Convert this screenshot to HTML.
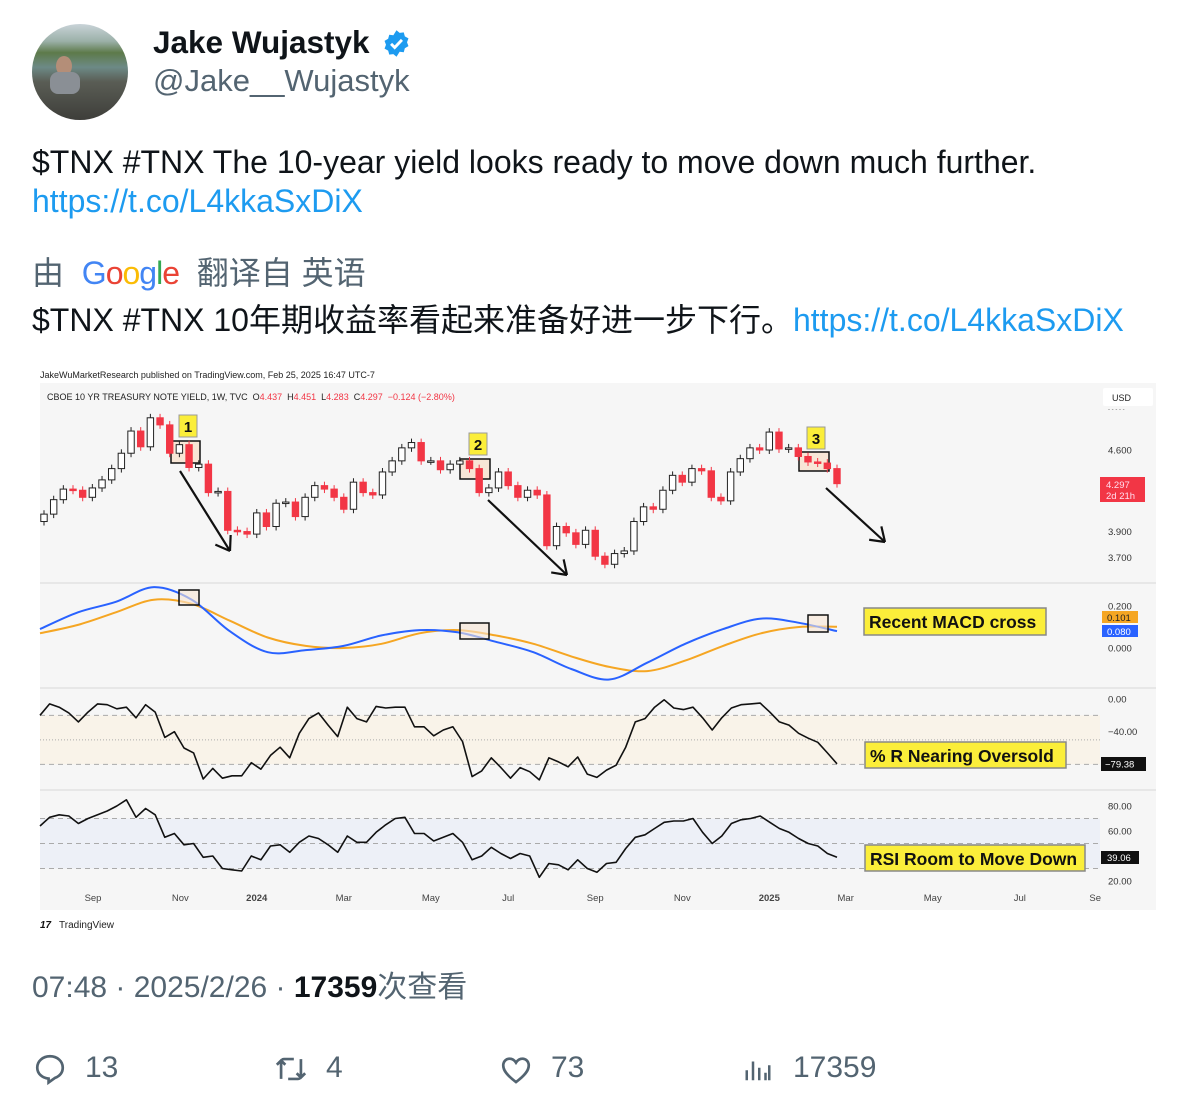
<!DOCTYPE html>
<html><head><meta charset="utf-8">
<style>
body{margin:0;width:1196px;height:1116px;background:#fff;position:relative;overflow:hidden;font-family:"Liberation Sans","Noto Sans CJK SC",sans-serif;color:#0f1419}
.a{position:absolute;white-space:nowrap}
.g{color:#536471}
.l{color:#1d9bf0}
</style></head><body>
<div class="a" style="left:32px;top:24px;width:96px;height:96px;border-radius:50%;overflow:hidden;background:linear-gradient(#c9d3d8 0,#9bb0a8 18%,#5d7a4a 30%,#6d8a86 45%,#5a5d55 60%,#3e3e3a 100%)">
 <div style="position:absolute;left:24px;top:32px;width:16px;height:20px;border-radius:50%;background:#b48e78"></div>
 <div style="position:absolute;left:18px;top:48px;width:30px;height:22px;border-radius:8px;background:#8a8f95"></div>
</div>
<div class="a" style="left:153px;top:24px;font-size:31.5px;font-weight:bold;">Jake Wujastyk</div>
<svg class="a" style="left:382px;top:29px" width="29" height="29" viewBox="0 0 24 24"><path fill="#1d9bf0" d="M12 1l2.6 2.2 3.4-.4.9 3.3 3 1.7-1.2 3.2 1.2 3.2-3 1.7-.9 3.3-3.4-.4L12 23l-2.6-2.2-3.4.4-.9-3.3-3-1.7L3.3 13 2.1 9.8l3-1.7.9-3.3 3.4.4z"/><path d="M7.5 12.3l3 3 6-6.3" stroke="#fff" stroke-width="2.4" fill="none"/></svg>
<div class="a g" style="left:153px;top:63px;font-size:31px;">@Jake__Wujastyk</div>
<div class="a" style="left:32px;top:144px;font-size:32px;">$TNX #TNX The 10-year yield looks ready to move down much further.</div>
<div class="a l" style="left:32px;top:183px;font-size:32px;">https://t.co/L4kkaSxDiX</div>
<div class="a g" style="left:32px;top:248px;font-size:32px;">由&nbsp; <span style="letter-spacing:-1px"><span style="color:#4285f4">G</span><span style="color:#ea4335">o</span><span style="color:#fbbc05">o</span><span style="color:#4285f4">g</span><span style="color:#34a853">l</span><span style="color:#ea4335">e</span></span>&nbsp; 翻译自 英语</div>
<div class="a" style="left:32px;top:295px;font-size:32px;">$TNX #TNX 10年期收益率看起来准备好进一步下行。<span class="l">https://t.co/L4kkaSxDiX</span></div>

<svg id="chart" class="a" style="left:0;top:360px" width="1196" height="580" viewBox="0 360 1196 580" font-family="Liberation Sans, sans-serif"></svg>

<div class="a g" style="left:32px;top:962px;font-size:30px;">07:48 · 2025/2/26 · <b style="color:#0f1419">17359</b>次查看</div>

<svg class="a" style="left:33px;top:1052px" width="34" height="34" viewBox="0 0 24 24"><path d="M12 3c5 0 9 3.4 9 8 0 3.5-2.3 6-5.5 7.3L11 21.5V18.8C6.5 18.3 3 15.3 3 11c0-4.6 4-8 9-8z" fill="none" stroke="#536471" stroke-width="1.9"/></svg>
<div class="a g" style="left:85px;top:1051px;font-size:30px">13</div>
<svg class="a" style="left:273px;top:1052px" width="36" height="34" viewBox="0 0 24 24" fill="none" stroke="#536471" stroke-width="1.9"><path d="M5 19V7a2 2 0 012-2h7M2 9l3-3 3 3M19 5v12a2 2 0 01-2 2h-7M16 15l3 3 3-3"/></svg>
<div class="a g" style="left:326px;top:1051px;font-size:30px">4</div>
<svg class="a" style="left:499px;top:1053px" width="34" height="34" viewBox="0 0 24 24"><path d="M12 20.5C6 16 3 12.5 3 8.8 3 6 5 4 7.5 4c2 0 3.5 1.2 4.5 2.8C13 5.2 14.5 4 16.5 4 19 4 21 6 21 8.8c0 3.7-3 7.2-9 11.7z" fill="none" stroke="#536471" stroke-width="1.9"/></svg>
<div class="a g" style="left:551px;top:1051px;font-size:30px">73</div>
<svg class="a" style="left:743px;top:1052px" width="30" height="34" viewBox="0 0 24 24" stroke="#536471" stroke-width="2"><path d="M3 21V13M8 21V6M13 21V11M18 21V15M21 21V9"/></svg>
<div class="a g" style="left:793px;top:1051px;font-size:30px">17359</div>

<script>
// ---- data ----
const closes=[4.04,4.16,4.25,4.24,4.18,4.26,4.33,4.43,4.57,4.78,4.63,4.91,4.84,4.57,4.65,4.44,4.47,4.22,4.23,3.91,3.90,3.88,
4.05,3.94,4.13,4.14,4.02,4.18,4.28,4.25,4.18,4.08,4.31,4.22,4.20,4.40,4.50,4.62,4.67,4.50,4.50,4.42,4.47,4.50,4.43,4.22,4.26,4.40,4.28,4.18,4.24,4.20,3.79,3.94,3.89,3.80,3.91,3.71,3.65,3.73,3.75,3.98,4.10,4.08,4.24,4.37,4.31,4.43,4.41,4.18,4.15,4.40,4.52,4.62,
4.60,4.77,4.61,4.62,4.54,4.49,4.48,4.43,4.297];
const firstOpen=3.98;
const macdLine=[0.09,0.17,0.22,0.29,0.23,0.08,-0.02,-0.01,0.01,0.06,0.085,0.075,0.03,-0.02,-0.10,-0.15,-0.07,0.02,0.09,0.14,0.12,0.08];
const signalLine=[0.07,0.11,0.17,0.23,0.21,0.13,0.05,0.01,0.00,0.02,0.07,0.085,0.06,0.02,-0.04,-0.09,-0.11,-0.06,0.01,0.07,0.10,0.101];
const williamsR=[-20,-6,-10,-17,-28,-16,-6,-7,-12,-10,-23,-7,-16,-47,-40,-60,-66,-98,-85,-97,-94,-94,-78,-86,-69,-59,-72,-42,-24,-17,-32,-46,-10,-24,-28,-9,-11,-10,-10,-34,-34,-45,-38,-34,-52,-95,-88,-72,-84,-97,-84,-89,-99,-72,-77,-83,-71,-92,-96,-87,-81,-59,
-28,-24,-10,-1,-11,-13,-10,-23,-38,-23,-11,-7,-6,-5,-16,-28,-32,-42,-48,-53,-66,-79.38];
const rsi=[64,71,73,72,66,70,73,76,80,85,71,78,73,55,58,49,50,39,40,30,29,28,40,37,48,49,43,51,56,54,49,43,56,51,51,59,65,70,71,58,58,52,55,58,51,37,40,47,42,38,42,40,23,34,33,29,37,30,27,34,35,46,
55,57,62,67,68,68,70,59,50,56,66,69,70,72,67,62,59,54,50,48,42,39.06];
const priceTicks=["4.600","3.900","3.700"];
const priceTickVals=[4.6,3.9,3.7];
const macdTicks=[0.2,0];
const wrTicks=[0,-40];
const rsiTicks=[80,60,20];
const dateLabels=["Sep","Nov","2024","Mar","May","Jul","Sep","Nov","2025","Mar","May","Jul","Se"];
const dateWeeks=[5.07,14.1,22.0,31.0,40.0,48.0,57.0,66.0,75.0,82.9,91.9,100.9,108.7];

// ---- scales ----
const X0=44,X1=837;
const step=(X1-X0)/(closes.length-1);
const xw=w=>X0+w*step;
const xi=(i,n,start)=>start+(X1-start)*i/(n-1);
const yP=p=>450-(Math.log(p)-Math.log(4.6))*494;
const yM=v=>648-v*210;
const yW=v=>699-v*0.8167;
const yR=v=>806-(v-80)*1.25;

const svg=document.getElementById('chart');
const NS='http://www.w3.org/2000/svg';
function mk(tag,attrs,parent){const e=document.createElementNS(NS,tag);for(const k in attrs)e.setAttribute(k,attrs[k]);(parent||svg).appendChild(e);return e;}
function txt(s,x,y,size,fill,extra){const e=mk('text',Object.assign({x:x,y:y,'font-size':size,fill:fill},extra||{}));e.textContent=s;return e;}

let e;
e=mk('rect',{x:32,y:362,width:1128,height:575,fill:'#fff'});

e=mk('rect',{x:40,y:383,width:1116,height:527,fill:'#f6f6f6'});

[583,688,790].forEach(y=>{e=mk('line',{x1:40,x2:1156,y1:y,y2:y,stroke:'#e2e2e2','stroke-width':1.5});});
e=mk('rect',{x:40,y:yW(-20),width:1060,height:yW(-80)-yW(-20),fill:'#f9f3e9'});

e=mk('rect',{x:40,y:yR(70),width:1060,height:yR(30)-yR(70),fill:'#edf0f7'});

[[-20,'5,4'],[-50,'1,2'],[-80,'5,4']].forEach(([v,d])=>{e=mk('line',{x1:40,x2:1100,y1:yW(v),y2:yW(v),stroke:'#aaa','stroke-dasharray':d});});
[70,50,30].forEach(v=>{e=mk('line',{x1:40,x2:1100,y1:yR(v),y2:yR(v),stroke:'#aaa','stroke-dasharray':'5,4'});});

e=txt('JakeWuMarketResearch published on TradingView.com, Feb 25, 2025 16:47 UTC-7',40,378,9,'#222');

e=mk('text',{x:47,y:400,'font-size':9,fill:'#222'});

e.innerHTML='CBOE 10 YR TREASURY NOTE YIELD, 1W, TVC&#160; O<tspan fill="#f23645">4.437</tspan>&#160; H<tspan fill="#f23645">4.451</tspan>&#160; L<tspan fill="#f23645">4.283</tspan>&#160; C<tspan fill="#f23645">4.297</tspan>&#160; <tspan fill="#f23645">−0.124 (−2.80%)</tspan>';

[[171,441,29,22],[460,459,30,20],[799,452,30,19]].forEach(b=>{e=mk('rect',{x:b[0],y:b[1],width:b[2],height:b[3],fill:'#f8e6d6',stroke:'#111','stroke-width':1.5});});

const candleG=mk('g',{});

closes.forEach((c,i)=>{
  const o=i===0?firstOpen:closes[i-1];
  const up=c>=o;
  const x=xw(i);
  const hi=Math.max(o,c)*1.008, lo=Math.min(o,c)*0.992;
  const col=up?'#222':'#f23645';
  const w=mk('line',{x1:x,x2:x,y1:yP(hi),y2:yP(lo),stroke:col,'stroke-width':1},candleG);
  
  
  const top=yP(Math.max(o,c)),bot=yP(Math.min(o,c));
  const r=mk('rect',{x:x-3.2,y:top,width:6.4,height:Math.max(1.5,bot-top),fill:up?'#fff':'#f23645',stroke:col,'stroke-width':1},candleG);
  
  
});

function line(arr,start,yf,color,name,wid,smooth){
  const P=arr.map((v,i)=>[xi(i,arr.length,start),yf(v)]);
  let d='M'+P[0][0].toFixed(1)+','+P[0][1].toFixed(1);
  for(let i=1;i<P.length;i++){
    if(smooth){
      const p0=P[i-2]||P[i-1],p1=P[i-1],p2=P[i],p3=P[i+1]||P[i];
      const c1=[p1[0]+(p2[0]-p0[0])/6,p1[1]+(p2[1]-p0[1])/6],c2=[p2[0]-(p3[0]-p1[0])/6,p2[1]-(p3[1]-p1[1])/6];
      d+=' C'+c1.map(n=>n.toFixed(1))+' '+c2.map(n=>n.toFixed(1))+' '+p2.map(n=>n.toFixed(1));
    } else d+=' L'+P[i][0].toFixed(1)+','+P[i][1].toFixed(1);
  }
  const p=mk('path',{d:d,fill:'none',stroke:color,'stroke-width':wid||2,'stroke-linejoin':'round'});
  
  
}
line(signalLine,40,yM,'#f5a623','macd-signal-line',2,true);
line(macdLine,40,yM,'#2962ff','macd-line',2,true);
line(williamsR,40,yW,'#111','williams-r-line',1.6);
line(rsi,40,yR,'#111','rsi-line',1.6);

[[179,590,20,15],[460,623,29,16],[808,615,20,17]].forEach(b=>{e=mk('rect',{x:b[0],y:b[1],width:b[2],height:b[3],fill:'rgba(248,230,214,0.6)',stroke:'#111','stroke-width':1.5});});

[['1',179,415],['2',469,433],['3',807,427]].forEach(n=>{
  e=mk('rect',{x:n[1],y:n[2],width:18,height:22,fill:'#fbee3a',stroke:'#999'});
  
  txt(n[0],n[1]+9,n[2]+17,15,'#111',{'font-weight':'bold','text-anchor':'middle'});
});
[[180,471,230,551],[488,500,567,575],[826,488,885,542]].forEach(a=>{
  e=mk('g',{stroke:'#111','stroke-width':2.2,fill:'none'});
  
  mk('line',{x1:a[0],y1:a[1],x2:a[2],y2:a[3]},e);
  const ang=Math.atan2(a[3]-a[1],a[2]-a[0]);
  [0.6,-0.6].forEach(d=>{mk('line',{x1:a[2],y1:a[3],x2:a[2]-16*Math.cos(ang+d),y2:a[3]-16*Math.sin(ang+d)},e);});
});
[['Recent MACD cross',864,608,182,27],['% R Nearing Oversold',865,742,201,26],['RSI Room to Move Down',865,845,220,26]].forEach(c=>{
  e=mk('rect',{x:c[1],y:c[2],width:c[3],height:c[4],fill:'#fbee3a',stroke:'#888','stroke-width':1.5});
  
  e=txt(c[0],c[1]+5,c[2]+20,17.5,'#111',{'font-weight':'bold'});
  
});

e=mk('rect',{x:1103,y:388,width:50,height:18,fill:'#fff',rx:2});

txt('USD',1112,401,9,'#222');
txt('- - - - -',1108,411,6,'#666');
priceTicks.forEach((t,i)=>{e=txt(t,1108,yP(priceTickVals[i])+3.5,9.5,'#333');});
e=mk('rect',{x:1100,y:477,width:45,height:25,fill:'#f23645'});

txt(closes[closes.length-1].toFixed(3),1106,488,9.5,'#fde');
txt('2d 21h',1106,499,9.5,'#fde');
macdTicks.forEach(v=>{e=txt(v.toFixed(3),1108,yM(v)+3.5,9.5,'#333');});
e=mk('rect',{x:1102,y:611,width:36,height:12,fill:'#f5a623'});
txt(signalLine[signalLine.length-1].toFixed(3),1107,621,9.5,'#222');
e=mk('rect',{x:1102,y:625,width:36,height:12,fill:'#2962ff'});
txt(macdLine[macdLine.length-1].toFixed(3),1107,635,9.5,'#fff');
wrTicks.forEach(v=>{e=txt((v<0?'−':'')+Math.abs(v).toFixed(2),1108,yW(v)+3.5,9.5,'#333');});
e=mk('rect',{x:1101,y:757,width:45,height:14,fill:'#111'});
txt('−'+Math.abs(williamsR[williamsR.length-1]).toFixed(2),1105,767.5,9.5,'#fff');
rsiTicks.forEach(v=>{e=txt(v.toFixed(2),1108,yR(v)+3.5,9.5,'#333');});
e=mk('rect',{x:1101,y:851,width:38,height:13,fill:'#111'});
txt(rsi[rsi.length-1].toFixed(2),1107,861,9.5,'#fff');

dateLabels.forEach((d,i)=>{
  const bold=d.length===4;
  e=txt(d,xw(dateWeeks[i]),901,9.5,'#444',{'text-anchor':'middle','font-weight':bold?'bold':'normal'});
  
  
});
e=txt('TradingView',59,928,10,'#222');

txt('17',40,928,10,'#111',{'font-weight':'bold','font-style':'italic'});
</script>
</body></html>
